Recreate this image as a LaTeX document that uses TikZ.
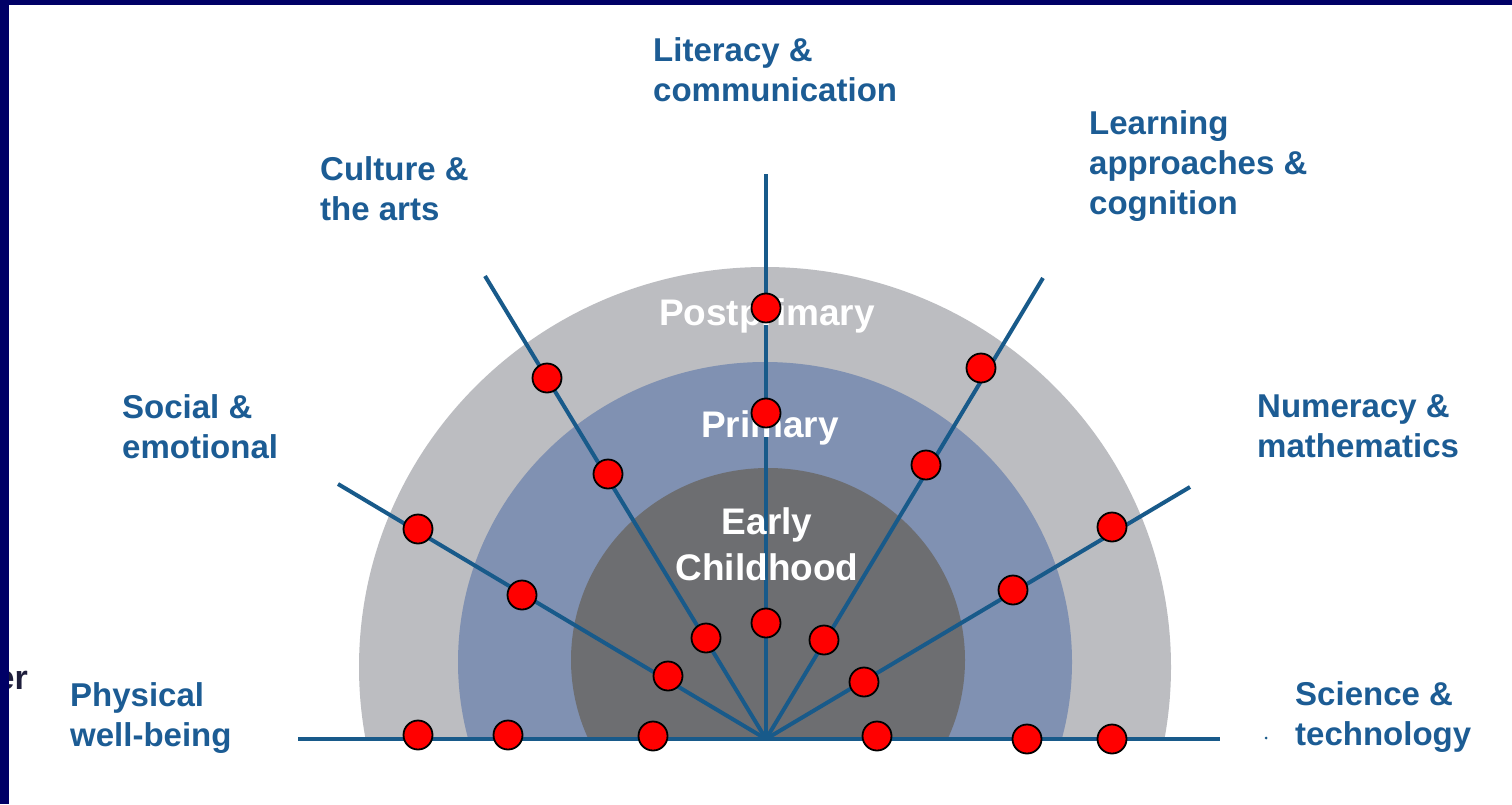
\documentclass[tikz,border=0pt]{standalone}
\usepackage{fontspec}
\setmainfont{Liberation Sans}
\definecolor{navy}{RGB}{0,0,102}
\definecolor{outerg}{RGB}{188,189,193}
\definecolor{midb}{RGB}{128,145,178}
\definecolor{innerg}{RGB}{109,110,113}
\definecolor{linec}{RGB}{24,90,138}
\definecolor{labc}{RGB}{28,92,148}
\definecolor{fragc}{RGB}{30,30,60}
\tikzset{
  lab/.style={anchor=north west, inner sep=0pt, align=left, text=labc,
    font=\fontsize{33}{40}\selectfont\bfseries},
  ring/.style={anchor=north, inner sep=0pt, align=center, text=white,
    font=\fontsize{37}{46}\selectfont\bfseries},
  ray/.style={draw=linec, line width=4pt},
  dot/.style={circle, fill=red, draw=black, line width=1.8pt, minimum size=29pt, inner sep=0pt}
}
\begin{document}
\begin{tikzpicture}[x=1pt,y=-1pt]
\useasboundingbox (0,0) rectangle (1512,804);
\fill[white] (0,0) rectangle (1512,804);
% rings: ellipses cut off at the base line
\begin{scope}
\clip (0,0) rectangle (1512,739);
\fill[outerg] (765,667) ellipse [x radius=406pt, y radius=400pt];
\fill[midb] (765,662) ellipse [x radius=307pt, y radius=300pt];
\fill[innerg] (768,660) ellipse [x radius=197pt, y radius=192pt];
\end{scope}
% coordinates
\coordinate (c) at (766,739);
\coordinate (hl) at (298,739);
\coordinate (hr) at (1220,739);
\coordinate (ev) at (766,174);
\coordinate (ecu) at (485,276);
\coordinate (eso) at (338,484);
\coordinate (ele) at (1043,278);
\coordinate (enu) at (1190,487);
% rays
\draw[ray] (hl) -- (hr);
\draw[ray] (c) -- (ev);
\draw[ray] (c) -- (ecu);
\draw[ray] (c) -- (eso);
\draw[ray] (c) -- (ele);
\draw[ray] (c) -- (enu);
% ring labels
\node[ring] (pp) at (767,298) {Postprimary};
\node[ring] (pr) at (770,410) {Primary};
\node[ring] (ec) at (767,507) {Early\\Childhood};
% dots
\node[dot] (h1) at (418,735) {};
\node[dot] (h2) at (508,735) {};
\node[dot] (h3) at (653,736) {};
\node[dot] (h4) at (877,736) {};
\node[dot] (h5) at (1027,739) {};
\node[dot] (h6) at (1112,739) {};
\node[dot] (v1) at (766,308) {};
\node[dot] (v2) at (766,413) {};
\node[dot] (v3) at (766,623) {};
\node[dot] (cu1) at (547,378) {};
\node[dot] (cu2) at (608,474) {};
\node[dot] (cu3) at (706,638) {};
\node[dot] (so1) at (418,529) {};
\node[dot] (so2) at (522,595) {};
\node[dot] (so3) at (668,676) {};
\node[dot] (le1) at (981,368) {};
\node[dot] (le2) at (926,465) {};
\node[dot] (le3) at (824,640) {};
\node[dot] (nu1) at (1112,527) {};
\node[dot] (nu2) at (1013,590) {};
\node[dot] (nu3) at (864,682) {};
% labels
\node[lab] (lit) at (653,37) {Literacy \&\\communication};
\node[lab] (cul) at (320,156) {Culture \&\\the arts};
\node[lab] (lea) at (1089,110) {Learning\\approaches \&\\cognition};
\node[lab] (soc) at (122,394) {Social \&\\emotional};
\node[lab] (num) at (1257,394) {Numeracy \&\\mathematics};
\node[lab] (phy) at (70,682) {Physical\\well-being};
\node[lab] (sci) at (1295,681) {Science \&\\technology};
\fill[linec] (1266,738) circle [radius=1.5pt];
\node[anchor=base east, inner sep=0pt, text=fragc, font=\fontsize{34}{40}\selectfont\bfseries] (frag) at (28,689) {er};
% border
\fill[navy] (0,0) rectangle (1512,5);
\fill[navy] (0,0) rectangle (9,804);
\end{tikzpicture}
\end{document}
